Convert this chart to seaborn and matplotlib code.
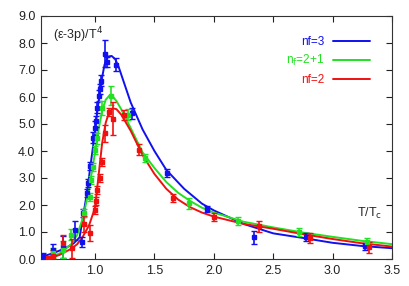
import matplotlib
matplotlib.use("Agg")
import matplotlib.pyplot as plt
import pandas as pd
import seaborn as sns

# Lattice points (T/Tc, value, error)
nf3_x = [0.565, 0.65, 0.73, 0.83, 0.89, 0.90, 0.93, 0.94, 0.96, 0.985, 1.00, 1.005,
         1.015, 1.03, 1.04, 1.05, 1.08, 1.10, 1.18, 1.31, 1.605, 1.94, 2.34, 2.78, 3.27]
nf3_y = [0.10, 0.35, 0.45, 1.07, 0.63, 1.70, 2.45, 2.80, 3.45, 4.50, 4.85, 5.10,
         5.60, 6.05, 6.30, 6.60, 7.60, 7.30, 7.20, 5.40, 3.20, 1.85, 0.80, 0.82, 0.47]
nf3_err = [0.12, 0.2, 0.4, 0.35, 0.2, 0.15, 0.15, 0.15, 0.15, 0.2, 0.25, 0.2,
           0.2, 0.2, 0.2, 0.2, 0.5, 0.2, 0.25, 0.2, 0.15, 0.1, 0.25, 0.15, 0.12]

nf21_x = [0.65, 0.73, 0.80, 0.91, 0.96, 0.97, 0.985, 1.00, 1.015, 1.06, 1.135,
          1.28, 1.42, 1.79, 2.20, 2.72, 3.29]
nf21_y = [0.22, 0.35, 0.90, 1.70, 2.30, 2.93, 3.42, 4.04, 4.47, 5.60, 6.05,
          5.35, 3.74, 2.07, 1.40, 0.99, 0.62]
nf21_err = [0.2, 0.3, 0.2, 0.15, 0.15, 0.15, 0.15, 0.15, 0.2, 0.25, 0.35,
            0.2, 0.15, 0.2, 0.15, 0.15, 0.15]

nf2_x = [0.60, 0.65, 0.73, 0.81, 0.91, 0.96, 1.00, 1.01, 1.02, 1.04, 1.055, 1.085,
         1.115, 1.155, 1.24, 1.37, 1.66, 2.00, 2.38, 2.81, 3.31]
nf2_y = [0.02, 0.12, 0.59, 0.40, 1.30, 0.95, 1.80, 2.15, 2.55, 3.00, 3.60, 4.65,
         5.45, 5.20, 5.33, 4.05, 2.26, 1.55, 1.21, 0.78, 0.43]
nf2_err = [0.05, 0.2, 0.3, 0.35, 0.3, 0.3, 0.15, 0.15, 0.15, 0.15, 0.15, 0.3,
           0.15, 0.6, 0.2, 0.2, 0.15, 0.15, 0.2, 0.2, 0.2]

# Fitted curves
fit3_x = [0.55, 0.65, 0.75, 0.82, 0.87, 0.90, 0.93, 0.96, 0.99, 1.02, 1.05, 1.08, 1.11,
          1.14, 1.17, 1.20, 1.25, 1.30, 1.40, 1.50, 1.60, 1.75, 1.90, 2.00, 2.25, 2.50,
          2.75, 3.00, 3.25, 3.50]
fit3_y = [0.08, 0.22, 0.40, 0.58, 0.80, 1.60, 2.40, 3.40, 4.40, 5.50, 6.50, 7.20, 7.50,
          7.52, 7.40, 7.10, 6.45, 5.80, 4.80, 4.00, 3.30, 2.60, 2.05, 1.80, 1.30, 0.95,
          0.78, 0.60, 0.48, 0.40]
fit21_x = [0.60, 0.70, 0.80, 0.85, 0.90, 0.95, 1.00, 1.03, 1.06, 1.09, 1.12, 1.15, 1.18,
           1.22, 1.30, 1.40, 1.50, 1.60, 1.70, 1.80, 1.90, 2.00, 2.25, 2.50, 2.75, 3.00,
           3.25, 3.50]
fit21_y = [0.05, 0.20, 0.55, 0.90, 1.55, 2.60, 3.95, 4.80, 5.50, 5.90, 6.05, 6.02, 5.85,
           5.55, 4.85, 3.95, 3.37, 2.85, 2.45, 2.15, 1.90, 1.72, 1.38, 1.17, 0.98, 0.82,
           0.67, 0.55]
fit2_x = [0.60, 0.70, 0.80, 0.85, 0.90, 0.95, 1.00, 1.03, 1.06, 1.09, 1.12, 1.15, 1.18,
          1.22, 1.30, 1.40, 1.50, 1.60, 1.70, 1.80, 1.90, 2.00, 2.25, 2.50, 2.75, 3.00,
          3.25, 3.50]
fit2_y = [0.00, 0.15, 0.38, 0.55, 0.85, 1.25, 1.90, 3.10, 4.30, 5.05, 5.45, 5.58, 5.55,
          5.35, 4.75, 3.85, 3.15, 2.60, 2.20, 1.92, 1.72, 1.57, 1.30, 1.12, 0.92, 0.74,
          0.58, 0.46]

series = [
    ("nf=3", "#1010f0", nf3_x, nf3_y, nf3_err, fit3_x, fit3_y),
    ("n$_{\\rm f}$=2+1", "#22e022", nf21_x, nf21_y, nf21_err, fit21_x, fit21_y),
    ("nf=2", "#f01010", nf2_x, nf2_y, nf2_err, fit2_x, fit2_y),
]

sns.set_style("ticks")
plt.rcParams["font.family"] = ["Liberation Sans", "DejaVu Sans"]

fig = plt.figure(figsize=(4.09, 2.86), dpi=100)
ax = fig.add_axes([41 / 409, 1 - 259 / 286, (392 - 41) / 409, (259 - 16) / 286])

for label, color, px, py, perr, fx, fy in series:
    fit = pd.DataFrame({"x": fx, "y": fy})
    sns.lineplot(data=fit, x="x", y="y", color=color, lw=1.4, ax=ax, label=label,
                 sort=False)
    ax.errorbar(px, py, yerr=perr, fmt="s", ms=2.2, color=color, ecolor=color,
                elinewidth=1.2, capsize=2, capthick=1.0, zorder=3)

ax.set_xlim(0.545, 3.5)
ax.set_ylim(0, 9)
ax.set_xticks([1.0, 1.5, 2.0, 2.5, 3.0, 3.5])
ax.set_yticks(range(10))
ax.xaxis.set_major_formatter(matplotlib.ticker.FormatStrFormatter("%.1f"))
ax.yaxis.set_major_formatter(matplotlib.ticker.FormatStrFormatter("%.1f"))
ax.tick_params(direction="in", top=True, right=True, length=4, width=0.8,
               labelsize=9, colors="#222222", pad=4)
for s in ax.spines.values():
    s.set_linewidth(0.8)
    s.set_color("#333333")
ax.set_xlabel("")
ax.set_ylabel("")

ax.text(0.035, 0.905, "(ε-3p)/T$^4$", transform=ax.transAxes, fontsize=9)
ax.text(0.90, 0.175, "T/T$_{\\rm c}$", transform=ax.transAxes, fontsize=9)

ax.legend(loc="upper right", bbox_to_anchor=(370 / 409, 1 - 36 / 286),
          bbox_transform=fig.transFigure, frameon=False, markerfirst=False,
          labelcolor="linecolor", fontsize=8.5, handlelength=3.1,
          handletextpad=0.8, labelspacing=0.45, borderpad=0, borderaxespad=0)

fig.savefig("out.png", dpi=100)
